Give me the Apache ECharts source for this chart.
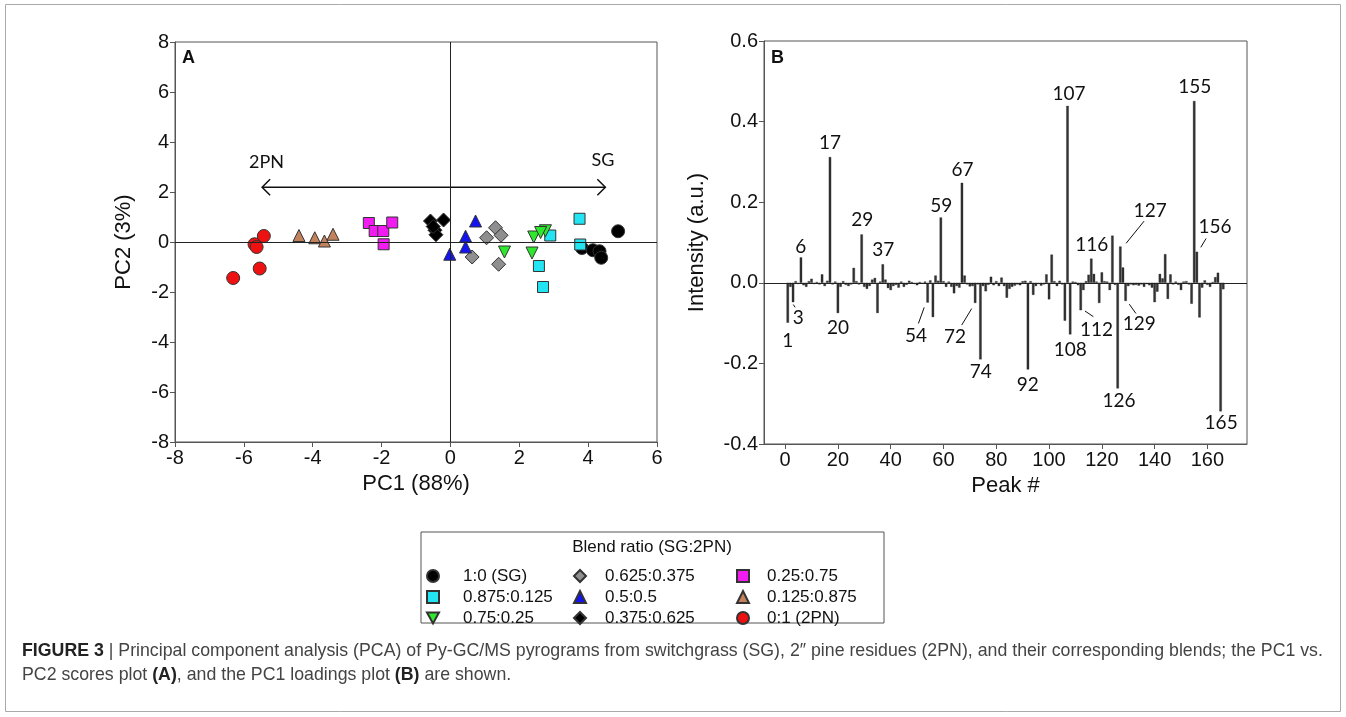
<!DOCTYPE html>
<html>
<head>
<meta charset="utf-8">
<script src="https://cdn.jsdelivr.net/npm/echarts@6/dist/echarts.min.js"></script>
<style>
html, body { margin: 0; padding: 0; background: #fff; }
#chart { width: 1346px; height: 717px; }
</style>
</head>
<body>
<div id="chart"></div>
<script>
// blend groups, in legend order (column by column)
const blendNames = ['1:0 (SG)', '0.875:0.125', '0.75:0.25', '0.625:0.375', '0.5:0.5', '0.375:0.625', '0.25:0.75', '0.125:0.875', '0:1 (2PN)'];

// PCA scores [PC1, PC2]
const sg = [[4.87, 0.43], [3.82, -0.24], [4.14, -0.33], [4.33, -0.37], [4.38, -0.63]];
const r875 = [[2.90, 0.26], [3.75, 0.93], [3.77, -0.10], [2.57, -0.96], [2.69, -1.80]];
const r750 = [[1.57, -0.40], [2.42, 0.20], [2.37, -0.44], [2.76, 0.45], [2.62, 0.38]];
const r625 = [[1.31, 0.57], [1.05, 0.17], [1.47, 0.27], [0.63, -0.60], [1.40, -0.89]];
const r500 = [[-0.02, -0.49], [0.44, 0.23], [0.44, -0.20], [0.73, 0.84]];
const r375 = [[-0.58, 0.84], [-0.20, 0.88], [-0.45, 0.47], [-0.42, 0.29], [-0.50, 0.62]];
const r250 = [[-2.37, 0.76], [-2.20, 0.44], [-1.95, 0.44], [-1.69, 0.78], [-1.94, -0.09]];
const r125 = [[-4.40, 0.26], [-3.94, 0.17], [-3.66, 0.04], [-3.41, 0.31]];
const pn = [[-6.31, -1.44], [-5.54, -1.06], [-5.69, -0.09], [-5.63, -0.20], [-5.42, 0.24]];

// PC1 loadings for peaks 1..166
const loadings = [
  -0.099, -0.010, -0.048, 0.004, -0.003, 0.063, -0.006, -0.010, 0.004, 0.010,
  -0.003, 0.002, -0.004, 0.021, -0.008, 0.005, 0.312, -0.004, 0.003, -0.075,
  -0.010, 0.004, -0.005, -0.008, -0.004, 0.037, 0.004, -0.004, 0.120, -0.010,
  -0.015, -0.008, 0.008, 0.012, -0.075, 0.003, 0.046, 0.008, -0.013, -0.018,
  -0.008, -0.005, -0.012, 0.003, -0.010, -0.005, 0.005, 0.002, -0.003, -0.006,
  0.002, -0.002, 0.003, -0.049, 0.006, -0.085, 0.018, 0.005, 0.162, 0.004,
  -0.010, 0.003, -0.010, -0.026, -0.008, -0.012, 0.248, 0.018, -0.004, -0.009,
  -0.008, -0.050, -0.004, -0.190, -0.008, -0.021, -0.005, 0.015, -0.006, 0.004,
  -0.008, 0.013, -0.008, -0.037, -0.015, -0.010, -0.007, -0.004, -0.006, 0.004,
  0.005, -0.215, 0.004, -0.030, -0.008, -0.003, -0.007, -0.004, 0.021, -0.041,
  0.070, 0.004, -0.008, 0.005, -0.004, -0.094, 0.439, -0.128, 0.003, 0.002,
  -0.006, -0.068, -0.018, 0.004, 0.020, 0.060, 0.022, 0.003, -0.050, 0.026,
  0.004, 0.003, -0.018, 0.117, -0.005, -0.262, 0.090, 0.038, -0.045, -0.008,
  -0.004, -0.006, -0.005, -0.007, -0.004, -0.010, -0.003, -0.006, -0.012, -0.048,
  -0.022, 0.022, 0.011, 0.071, -0.040, 0.021, -0.004, 0.003, -0.005, -0.018,
  0.003, 0.004, -0.004, -0.052, 0.451, 0.077, -0.086, -0.012, 0.006, -0.005,
  -0.010, 0.002, 0.014, 0.025, -0.319, -0.016
];

const peakTicks = [0, 20, 40, 60, 80, 100, 120, 140, 160];

// labelled peaks: text, label anchor [peak, value], optional leader line
const peakNotes = [
  ['1', [1, -0.144]],
  ['3', [5.0, -0.087], [[3.1, -0.054], [3.8, -0.061]]],
  ['6', [5.9, 0.089]],
  ['17', [17, 0.348]],
  ['20', [20, -0.113]],
  ['29', [29.2, 0.156]],
  ['37', [37.2, 0.081]],
  ['54', [49.6, -0.132], [[50.5, -0.101], [52.7, -0.061]]],
  ['59', [59.2, 0.190]],
  ['67', [67.2, 0.280]],
  ['72', [64.4, -0.134], [[66.9, -0.105], [70.7, -0.064]]],
  ['74', [74.1, -0.221]],
  ['92', [91.9, -0.254]],
  ['107', [107.6, 0.470]],
  ['108', [108, -0.166]],
  ['112', [118, -0.117], [[113.6, -0.070], [116.8, -0.084]]],
  ['116', [116.2, 0.094]],
  ['126', [126.5, -0.293]],
  ['127', [138.3, 0.179], [[136, 0.153], [129.2, 0.098]]],
  ['129', [134.2, -0.103], [[130.4, -0.053], [132.9, -0.076]]],
  ['155', [155.2, 0.485]],
  ['156', [162.9, 0.138], [[159.5, 0.110], [157.5, 0.088]]],
  ['165', [165.2, -0.347]]
];

const FONT = '"Liberation Sans", Arial, sans-serif';
const NOTE_FONT = 'Lato, "Open Sans", sans-serif';

const chart = echarts.init(document.getElementById('chart'));

const groups = [
  { data: sg, symbol: 'circle', color: '#000000', size: 13 },
  { data: r875, symbol: 'rect', color: '#22e4f2', size: 11 },
  { data: r750, symbol: 'triangle', rotate: 180, color: '#2ee82e', size: 12 },
  { data: r625, symbol: 'diamond', color: '#8f8f8f', size: 14 },
  { data: r500, symbol: 'triangle', color: '#1414f0', size: 12 },
  { data: r375, symbol: 'diamond', color: '#000000', size: 14 },
  { data: r250, symbol: 'rect', color: '#f21cf2', size: 11 },
  { data: r125, symbol: 'triangle', color: '#c2825e', size: 12 },
  { data: pn, symbol: 'circle', color: '#ee1111', size: 13 }
];

const scatterSeries = groups.map((g, i) => ({
  name: blendNames[i],
  type: 'scatter',
  xAxisIndex: 0,
  yAxisIndex: 0,
  data: g.data,
  symbol: g.symbol,
  symbolRotate: g.rotate || 0,
  symbolSize: g.size,
  itemStyle: { color: g.color, borderColor: '#333', borderWidth: 1, opacity: 1 },
  z: 3
}));

// zero lines on the scores plot
scatterSeries[0].markLine = {
  silent: true,
  symbol: 'none',
  label: { show: false },
  lineStyle: { color: '#222', width: 1, type: 'solid' },
  data: [{ xAxis: 0 }, { yAxis: 0 }]
};

const axisCommon = {
  axisLine: { show: true, onZero: false, lineStyle: { color: '#555', width: 1 } },
  axisTick: { show: true, inside: false, length: 5, lineStyle: { color: '#555' } },
  splitLine: { show: false },
  axisLabel: { color: '#111', fontSize: 20, fontFamily: FONT, margin: 6 },
  nameTextStyle: { color: '#111', fontSize: 22, fontFamily: FONT }
};

// legend entries; the down triangle needs its own icon
const legendItem = name => {
  if (name === blendNames[2]) {
    return { name, icon: 'path://M0,0L10,0L5,9Z' };
  }
  return { name };
};

const legendCommon = {
  orient: 'vertical',
  top: 562,
  itemWidth: 12,
  itemHeight: 12,
  itemGap: 3,
  selectedMode: false,
  textStyle: { fontSize: 17, fontFamily: FONT, color: '#111', lineHeight: 18 }
};

chart.setOption({
  animation: false,
  backgroundColor: '#fff',
  grid: [
    { left: 175, right: 689, top: 42, bottom: 275, show: true, borderColor: '#555', borderWidth: 1 },
    { left: 764, right: 99, top: 41, bottom: 273, show: true, borderColor: '#555', borderWidth: 1 }
  ],
  xAxis: [
    Object.assign({}, axisCommon, {
      type: 'value', gridIndex: 0, min: -8, max: 6, interval: 2,
      name: 'PC1 (88%)', nameLocation: 'middle', nameGap: 29
    }),
    Object.assign({}, axisCommon, {
      type: 'value', gridIndex: 1, min: -8, max: 175,
      axisTick: Object.assign({}, axisCommon.axisTick, { customValues: peakTicks }),
      axisLabel: Object.assign({}, axisCommon.axisLabel, { customValues: peakTicks }),
      name: 'Peak #', nameLocation: 'middle', nameGap: 29
    })
  ],
  yAxis: [
    Object.assign({}, axisCommon, {
      type: 'value', gridIndex: 0, min: -8, max: 8, interval: 2,
      name: 'PC2 (3%)', nameLocation: 'middle', nameGap: 40
    }),
    Object.assign({}, axisCommon, {
      type: 'value', gridIndex: 1, min: -0.4, max: 0.6, interval: 0.2,
      axisLabel: Object.assign({}, axisCommon.axisLabel, { formatter: v => v.toFixed(1) }),
      name: 'Intensity (a.u.)', nameLocation: 'middle', nameGap: 56
    })
  ],
  legend: [
    Object.assign({}, legendCommon, { left: 421, data: blendNames.slice(0, 3).map(legendItem),
      textStyle: Object.assign({}, legendCommon.textStyle, { padding: [0, 0, 0, 19] }) }),
    Object.assign({}, legendCommon, { left: 568, data: blendNames.slice(3, 6).map(legendItem),
      textStyle: Object.assign({}, legendCommon.textStyle, { padding: [0, 0, 0, 14] }) }),
    Object.assign({}, legendCommon, { left: 731, data: blendNames.slice(6, 9).map(legendItem),
      textStyle: Object.assign({}, legendCommon.textStyle, { padding: [0, 0, 0, 13] }) })
  ],
  series: scatterSeries.concat([{
    name: 'PC1 loadings',
    type: 'bar',
    xAxisIndex: 1,
    yAxisIndex: 1,
    barWidth: 2.4,
    data: loadings.map((v, i) => [i + 1, v]),
    itemStyle: { color: '#333', borderColor: '#111', borderWidth: 0.3 },
    markLine: {
      silent: true,
      symbol: 'none',
      label: { show: false },
      lineStyle: { color: '#222', width: 1, type: 'solid' },
      data: [{ yAxis: 0 }]
    }
  }])
});

// overlay: arrow, panel letters, peak labels, legend frame, caption
const px = (grid, pt) => chart.convertToPixel({ gridIndex: grid }, pt);
const g = [];

const a0 = px(0, [-5.47, 2.19]);
const a1 = px(0, [4.5, 2.19]);
const lineStyle = { stroke: '#111', lineWidth: 1.5, fill: null };
g.push({ type: 'line', shape: { x1: a0[0], y1: a0[1], x2: a1[0], y2: a1[1] }, style: lineStyle });
g.push({ type: 'polyline', shape: { points: [[a0[0] + 8, a0[1] - 8], a0, [a0[0] + 8, a0[1] + 8]] }, style: lineStyle });
g.push({ type: 'polyline', shape: { points: [[a1[0] - 8, a1[1] - 8], a1, [a1[0] - 8, a1[1] + 8]] }, style: lineStyle });

const t2pn = px(0, [-5.34, 3.2]);
const tsg = px(0, [4.43, 3.27]);
g.push({ type: 'text', x: t2pn[0], y: t2pn[1], style: { text: '2PN', font: '18px ' + NOTE_FONT, fill: '#111', align: 'center', verticalAlign: 'middle' } });
g.push({ type: 'text', x: tsg[0], y: tsg[1], style: { text: 'SG', font: '18px ' + NOTE_FONT, fill: '#111', align: 'center', verticalAlign: 'middle' } });

g.push({ type: 'text', x: 182, y: 58, style: { text: 'A', font: 'bold 18px ' + FONT, fill: '#111', verticalAlign: 'middle' } });
g.push({ type: 'text', x: 771, y: 58, style: { text: 'B', font: 'bold 18px ' + FONT, fill: '#111', verticalAlign: 'middle' } });

peakNotes.forEach(n => {
  const p = px(1, n[1]);
  g.push({ type: 'text', x: p[0], y: p[1], z: 10,
    style: { text: n[0], font: '19px ' + NOTE_FONT, fill: '#111', align: 'center', verticalAlign: 'middle' } });
  if (n[2]) {
    const s = px(1, n[2][0]);
    const e = px(1, n[2][1]);
    g.push({ type: 'line', shape: { x1: s[0], y1: s[1], x2: e[0], y2: e[1] }, style: { stroke: '#111', lineWidth: 1 } });
  }
});

// legend frame and title
g.push({ type: 'rect', shape: { x: 421, y: 532, width: 463, height: 91 }, style: { fill: null, stroke: '#555', lineWidth: 1 }, z: -1 });
g.push({ type: 'text', x: 652, y: 547, style: { text: 'Blend ratio (SG:2PN)', font: '17px ' + FONT, fill: '#111', align: 'center', verticalAlign: 'middle' } });

// figure frame
g.push({ type: 'rect', shape: { x: 5.5, y: 4.5, width: 1335, height: 707 }, style: { fill: null, stroke: '#aaa', lineWidth: 1 }, z: -1 });

// caption (condensed look: taller type squeezed horizontally)
const capFont = '"Liberation Sans", Arial, sans-serif';
const capRich = { b: { fontWeight: 'bold', fontSize: 19, fontFamily: capFont, fill: '#222' } };
g.push({ type: 'text', x: 22, y: 651, scaleX: 0.934, style: {
  text: '{b|FIGURE 3} | Principal component analysis (PCA) of Py-GC/MS pyrograms from switchgrass (SG), 2\u2033 pine residues (2PN), and their corresponding blends; the PC1 vs.',
  font: '19px ' + capFont, fill: '#444', verticalAlign: 'middle', rich: capRich
} });
g.push({ type: 'text', x: 22, y: 675, scaleX: 0.934, style: {
  text: 'PC2 scores plot {b|(A)}, and the PC1 loadings plot {b|(B)} are shown.',
  font: '19px ' + capFont, fill: '#444', verticalAlign: 'middle', rich: capRich
} });

chart.setOption({ graphic: g });
</script>
</body>
</html>
